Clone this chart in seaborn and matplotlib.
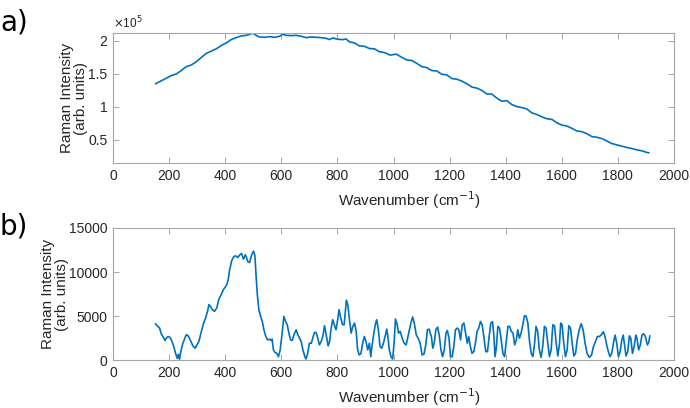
import pandas as pd
import seaborn as sns
import matplotlib.pyplot as plt

# panel a) raw spectrum, intensity in units of 1e5
wn_a = [151, 172, 190, 208, 226, 243, 261, 279, 297, 315, 332, 350, 368, 386, 404,
        421, 439, 457, 475, 487, 499, 508, 522, 540, 558, 576, 594, 605, 617, 635,
        653, 671, 689, 706, 724, 742, 760, 772, 783, 801, 819, 831, 843, 861, 878,
        896, 914, 932, 950, 967, 988, 1010, 1030, 1048, 1065, 1083, 1101, 1119, 1137,
        1154, 1172, 1190, 1208, 1226, 1244, 1262, 1280, 1297, 1315, 1333, 1350, 1368,
        1386, 1404, 1422, 1440, 1457, 1475, 1493, 1511, 1529, 1547, 1565, 1582, 1600,
        1618, 1636, 1654, 1671, 1689, 1707, 1725, 1743, 1760, 1778, 1796, 1814, 1832,
        1849, 1867, 1885, 1903, 1911]
int_a = [1.35, 1.395, 1.435, 1.475, 1.50, 1.55, 1.61, 1.635, 1.685, 1.75, 1.81, 1.845,
         1.88, 1.93, 1.97, 2.02, 2.05, 2.075, 2.085, 2.10, 2.12, 2.09, 2.06, 2.055,
         2.065, 2.055, 2.07, 2.10, 2.085, 2.08, 2.085, 2.07, 2.05, 2.06, 2.055, 2.05,
         2.04, 2.02, 2.045, 2.025, 2.02, 2.03, 1.985, 1.97, 1.925, 1.92, 1.885, 1.88,
         1.835, 1.825, 1.785, 1.80, 1.75, 1.71, 1.705, 1.66, 1.61, 1.595, 1.55, 1.545,
         1.495, 1.485, 1.43, 1.42, 1.39, 1.35, 1.30, 1.285, 1.25, 1.195, 1.195, 1.135,
         1.085, 1.095, 1.035, 1.005, 0.99, 0.97, 0.91, 0.885, 0.85, 0.82, 0.81, 0.76,
         0.725, 0.71, 0.675, 0.635, 0.625, 0.595, 0.55, 0.54, 0.52, 0.485, 0.445,
         0.425, 0.405, 0.385, 0.37, 0.35, 0.335, 0.31, 0.305]

# panel b) background-subtracted spectrum
wn_b = [151, 157, 166, 172, 180, 185, 190, 196, 202, 208, 216, 223, 229, 233, 237,
        243, 249, 255, 261, 267, 275, 285, 293, 299, 306, 315, 323, 330, 337, 342,
        347, 354, 362, 370, 377, 386, 394, 401, 406, 411, 415, 423, 430, 437, 445,
        451, 458, 465, 472, 481, 487, 493, 501, 506, 510, 515, 520, 526, 532, 538,
        544, 551, 558, 563, 567, 572, 578, 584, 590, 596, 603, 609, 615, 621, 627,
        633, 639, 645, 653, 659, 665, 671, 677, 684, 688, 694, 700, 707, 712, 718,
        724, 730, 736, 742, 748, 754, 760, 767, 772, 777, 783, 789, 795, 801, 806,
        812, 818, 824, 829, 832, 837, 843, 849, 855, 861, 867, 872, 878, 884, 890,
        896, 902, 908, 914, 919, 923, 929, 935, 940, 946, 952, 958, 964, 970, 976,
        980, 985, 991, 997, 1002, 1007, 1013, 1018, 1024, 1031, 1038, 1045, 1053,
        1062, 1068, 1074, 1081, 1088, 1095, 1102, 1109, 1115, 1121, 1127, 1131, 1135,
        1140, 1145, 1151, 1157, 1163, 1169, 1175, 1181, 1187, 1192, 1198, 1203, 1209,
        1215, 1221, 1227, 1233, 1239, 1245, 1251, 1257, 1263, 1268, 1274, 1280, 1286,
        1292, 1298, 1304, 1310, 1316, 1322, 1329, 1335, 1341, 1347, 1353, 1358, 1362,
        1367, 1372, 1378, 1384, 1390, 1396, 1402, 1408, 1414, 1420, 1426, 1432, 1438,
        1443, 1449, 1455, 1461, 1467, 1473, 1479, 1485, 1491, 1497, 1503, 1508, 1514,
        1520, 1526, 1532, 1538, 1544, 1550, 1556, 1562, 1568, 1574, 1580, 1586, 1592,
        1596, 1601, 1607, 1613, 1619, 1625, 1631, 1637, 1643, 1649, 1655, 1662, 1669,
        1676, 1683, 1690, 1698, 1706, 1713, 1720, 1727, 1734, 1741, 1748, 1754, 1760,
        1766, 1772, 1778, 1784, 1790, 1796, 1802, 1808, 1814, 1819, 1823, 1829, 1835,
        1841, 1846, 1852, 1858, 1864, 1868, 1874, 1880, 1886, 1892, 1898, 1905, 1910,
        1914]
int_b = [4125, 3900, 3630, 2980, 2560, 2215, 2480, 2670, 2600, 2290, 1600, 760, 190,
         650, 80, 1150, 1900, 2370, 2860, 2790, 2290, 1600, 1340, 1720, 2100, 3250,
         4200, 4775, 5540, 6300, 6110, 5730, 5540, 5920, 6880, 7450, 8020, 8330, 8600,
         9170, 10120, 11270, 11730, 11840, 11650, 11920, 12110, 11460, 11960, 11150,
         11080, 11840, 12380, 11840, 9550, 7260, 5730, 4970, 4390, 3440, 2750, 2290,
         2370, 2215, 2370, 1150, 840, 760, 380, 1150, 3060, 4970, 4390, 4010, 3060,
         2290, 2215, 2860, 3440, 2860, 2480, 2100, 1150, 380, 115, 760, 1910, 1910,
         2480, 3130, 3130, 2480, 1720, 2100, 2670, 3900, 2860, 1600, 2100, 3440, 4580,
         4010, 3440, 4580, 5730, 4775, 4010, 4010, 5730, 6800, 6300, 4580, 3060, 3820,
         4200, 3250, 1150, 570, 760, 1910, 2670, 2100, 1150, 1910, 380, 1530, 2860,
         4010, 4580, 3440, 1530, 1340, 1910, 2670, 3510, 2670, 1150, 380, 115, 1910,
         4660, 4010, 3060, 3250, 2480, 1910, 1720, 2860, 4200, 4890, 4200, 2860, 2480,
         1910, 570, 690, 1720, 3440, 3510, 3060, 2670, 1340, 1910, 3440, 3740, 2860,
         1150, 380, 1150, 3060, 3360, 2480, 380, 380, 1530, 3440, 3630, 3440, 2290,
         4010, 4200, 3060, 1910, 2670, 1530, 760, 950, 1910, 3250, 3630, 4390, 4010,
         2670, 950, 950, 2670, 4200, 4355, 2670, 380, 1530, 3820, 3630, 2290, 760,
         380, 2100, 3820, 3820, 3250, 3060, 1720, 2290, 3440, 2480, 3060, 4010, 5040,
         4970, 4200, 2100, 760, 380, 1910, 3820, 3250, 1150, 300, 1530, 3820, 3630,
         1910, 380, 1150, 4010, 3900, 1910, 460, 1910, 4200, 4010, 1910, 380, 1150,
         3900, 3630, 1910, 460, 760, 2290, 3440, 4125, 3440, 1910, 760, 300, 570,
         1530, 2100, 2670, 2670, 2860, 3210, 2670, 1720, 950, 380, 760, 1910, 2830,
         1910, 380, 950, 2290, 2830, 1910, 460, 950, 2750, 2480, 760, 1530, 2830,
         2480, 1150, 1720, 2860, 2980, 2670, 1720, 1990, 2750]

x_ticks = [0, 200, 400, 600, 800, 1000, 1200, 1400, 1600, 1800, 2000]

df_a = pd.DataFrame({"wn": wn_a, "intensity": int_a})
df_b = pd.DataFrame({"wn": wn_b, "intensity": int_b})

sns.set_style("white")
plt.rcParams["font.family"] = ["Liberation Sans", "DejaVu Sans"]

line_color = "#0072BD"
box_color = "#a6a6a6"
text_color = "#262626"

fig = plt.figure(figsize=(6.9, 4.08), dpi=100)
ax_a = fig.add_axes([0.1638, 0.6005, 0.813, 0.3186])
ax_b = fig.add_axes([0.1638, 0.1176, 0.813, 0.3236])

sns.lineplot(data=df_a, x="wn", y="intensity", ax=ax_a, color=line_color, lw=1.2)
sns.lineplot(data=df_b, x="wn", y="intensity", ax=ax_b, color=line_color, lw=1.2)

ax_a.set_ylim(0.15, 2.12)
ax_a.set_yticks([0.5, 1, 1.5, 2])
ax_a.set_yticklabels(["0.5", "1", "1.5", "2"])
ax_b.set_ylim(0, 15000)
ax_b.set_yticks([0, 5000, 10000, 15000])

for ax in (ax_a, ax_b):
    ax.set_xlim(0, 2000)
    ax.set_xticks(x_ticks)
    ax.tick_params(direction="in", length=4, width=0.7, color=box_color,
                   labelcolor=text_color, labelsize=10, top=True, right=True,
                   bottom=True, left=True, pad=4)
    for spine in ax.spines.values():
        spine.set_visible(True)
        spine.set_color(box_color)
        spine.set_linewidth(0.8)
    ax.set_xlabel("Wavenumber (cm$^{-1}$)", fontsize=11, color=text_color, labelpad=2)
    ax.xaxis.set_label_coords(0.528, -0.2)
    ax.set_ylabel("Raman Intensity\n(arb. units)", fontsize=11, color=text_color,
                  labelpad=0, linespacing=1.0)

ax_a.text(0.0, 1.015, r"$\times$10$^5$", transform=ax_a.transAxes, fontsize=8.5,
          color=text_color, ha="left", va="bottom")

fig.text(0.0, 0.925, "a)", fontsize=20, family="DejaVu Sans", color="black")
fig.text(0.0, 0.425, "b)", fontsize=20, family="DejaVu Sans", color="black")

plt.savefig("out.png", dpi=100)
plt.close()
